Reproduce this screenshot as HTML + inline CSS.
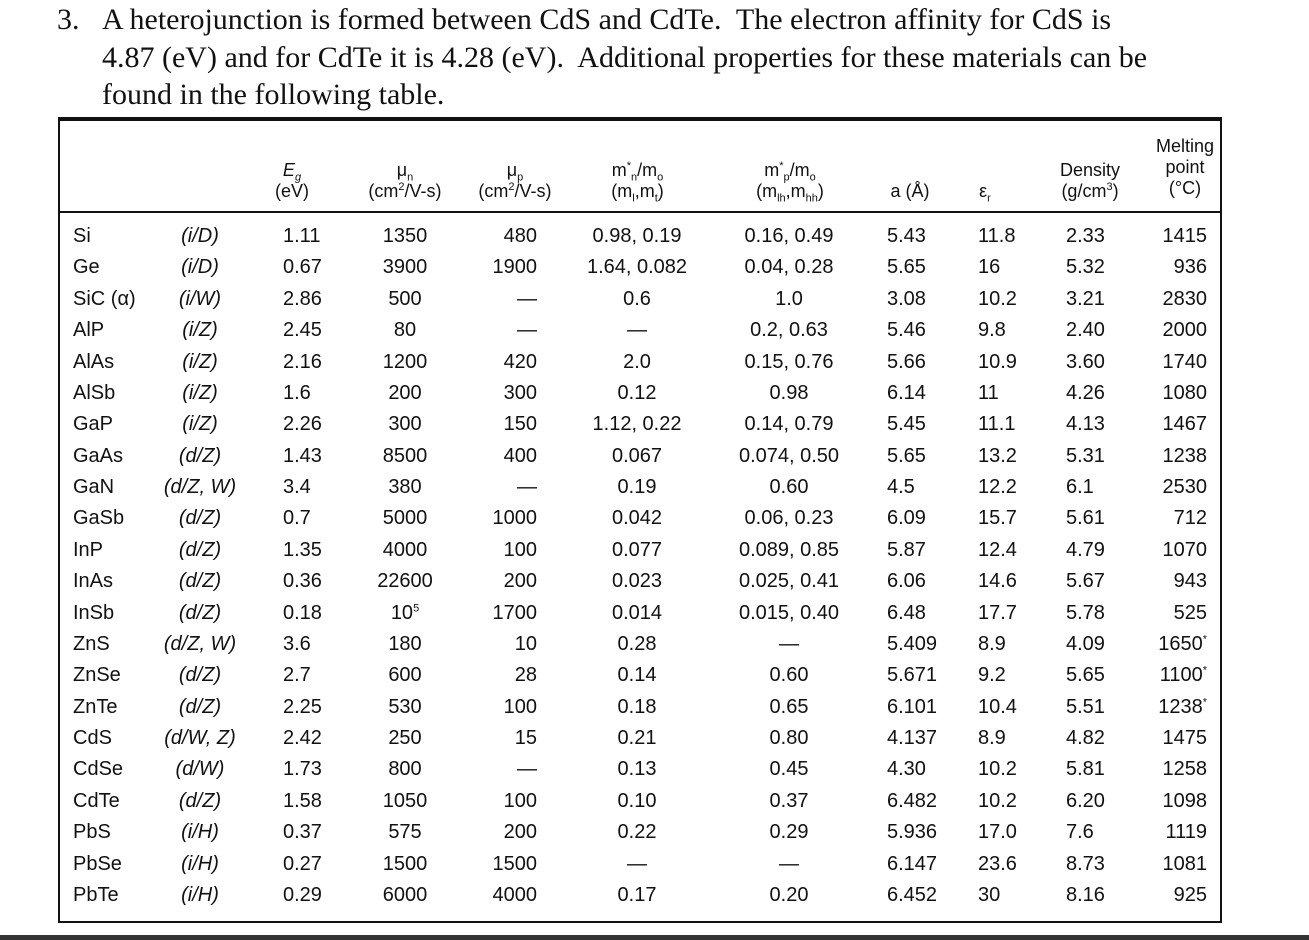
<!DOCTYPE html>
<html><head><meta charset="utf-8">
<style>
body{margin:0;width:1309px;height:940px;background:#fff;position:relative;overflow:hidden;font-family:"Liberation Sans",sans-serif;color:#111}
.q{position:absolute;font-family:"Liberation Serif",serif;font-size:30px;line-height:38px;white-space:nowrap}
#tbl{position:absolute;left:58px;top:117px;width:1164px;height:806px;border:2px solid #111;border-top:4px solid #111;box-sizing:border-box}
.c{position:absolute;font-size:20px;white-space:nowrap;line-height:24px}
.h{position:absolute;font-size:18px;line-height:21px;text-align:center;white-space:nowrap}
sup,sub{font-size:11px;line-height:0}
</style></head><body>
<div class="q" style="left:57px;top:1px">3.</div>
<div class="q" style="left:102px;top:1px">A heterojunction is formed between CdS and CdTe.&nbsp; The electron affinity for CdS is</div>
<div class="q" style="left:102px;top:39px">4.87 (eV) and for CdTe it is 4.28 (eV).&nbsp; Additional properties for these materials can be</div>
<div class="q" style="left:102px;top:76px">found in the following table.</div>
<div id="tbl"></div>
<div style="position:absolute;left:58px;top:211px;width:1164px;height:2px;background:#111"></div>
<div style="position:absolute;left:0;top:935px;width:1309px;height:5px;background:#333"></div>
<div class="h" style="left:272px;top:160px;width:40px"><i>E<sub>g</sub></i><br>(eV)</div>
<div class="h" style="left:355px;top:160px;width:100px">μ<sub>n</sub><br>(cm<sup>2</sup>/V-s)</div>
<div class="h" style="left:465px;top:160px;width:100px">μ<sub>p</sub><br>(cm<sup>2</sup>/V-s)</div>
<div class="h" style="left:580px;top:160px;width:115px">m<sup>*</sup><sub>n</sub>/m<sub>o</sub><br>(m<sub>l</sub>,m<sub>t</sub>)</div>
<div class="h" style="left:730px;top:160px;width:120px">m<sup>*</sup><sub>p</sub>/m<sub>o</sub><br>(m<sub>lh</sub>,m<sub>hh</sub>)</div>
<div class="h" style="left:880px;top:181px;width:60px">a (Å)</div>
<div class="h" style="left:970px;top:181px;width:30px">ε<sub>r</sub></div>
<div class="h" style="left:1045px;top:160px;width:90px">Density<br>(g/cm<sup>3</sup>)</div>
<div class="h" style="left:1150px;top:136px;width:70px">Melting<br>point<br>(°C)</div>
<script>
const names=["Si","Ge","SiC (α)","AlP","AlAs","AlSb","GaP","GaAs","GaN","GaSb","InP","InAs","InSb","ZnS","ZnSe","ZnTe","CdS","CdSe","CdTe","PbS","PbSe","PbTe"];
const types=["(i/D)","(i/D)","(i/W)","(i/Z)","(i/Z)","(i/Z)","(i/Z)","(d/Z)","(d/Z, W)","(d/Z)","(d/Z)","(d/Z)","(d/Z)","(d/Z, W)","(d/Z)","(d/Z)","(d/W, Z)","(d/W)","(d/Z)","(i/H)","(i/H)","(i/H)"];
const eg=["1.11","0.67","2.86","2.45","2.16","1.6","2.26","1.43","3.4","0.7","1.35","0.36","0.18","3.6","2.7","2.25","2.42","1.73","1.58","0.37","0.27","0.29"];
const mun=["1350","3900","500","80","1200","200","300","8500","380","5000","4000","22600","10<sup>5</sup>","180","600","530","250","800","1050","575","1500","6000"];
const mup=["480","1900","—","—","420","300","150","400","—","1000","100","200","1700","10","28","100","15","—","100","200","1500","4000"];
const mn=["0.98, 0.19","1.64, 0.082","0.6","—","2.0","0.12","1.12, 0.22","0.067","0.19","0.042","0.077","0.023","0.014","0.28","0.14","0.18","0.21","0.13","0.10","0.22","—","0.17"];
const mp=["0.16, 0.49","0.04, 0.28","1.0","0.2, 0.63","0.15, 0.76","0.98","0.14, 0.79","0.074, 0.50","0.60","0.06, 0.23","0.089, 0.85","0.025, 0.41","0.015, 0.40","—","0.60","0.65","0.80","0.45","0.37","0.29","—","0.20"];
const lat=["5.43","5.65","3.08","5.46","5.66","6.14","5.45","5.65","4.5","6.09","5.87","6.06","6.48","5.409","5.671","6.101","4.137","4.30","6.482","5.936","6.147","6.452"];
const eps=["11.8","16","10.2","9.8","10.9","11","11.1","13.2","12.2","15.7","12.4","14.6","17.7","8.9","9.2","10.4","8.9","10.2","10.2","17.0","23.6","30"];
const dens=["2.33","5.32","3.21","2.40","3.60","4.26","4.13","5.31","6.1","5.61","4.79","5.67","5.78","4.09","5.65","5.51","4.82","5.81","6.20","7.6","8.73","8.16"];
const melt=["1415","936","2830","2000","1740","1080","1467","1238","2530","712","1070","943","525","1650<sup>*</sup>","1100<sup>*</sup>","1238<sup>*</sup>","1475","1258","1098","1119","1081","925"];
const cols=[[names,73,"l","name"],[types,200,"c","type"],[eg,283,"l","eg"],[mun,405,"c","mun"],[mup,537,"r","mup"],[mn,637,"c","mn"],[mp,789,"c","mp"],[lat,887,"l","lattice"],[eps,978,"l","epsilon"],[dens,1066,"l","density"],[melt,1207,"r","melting"]];
for(let i=0;i<names.length;i++){
  const y=236+i*31.38-12;
  for(const [arr,x,al,key] of cols){
    const d=document.createElement('div');
    d.className='c';
    d.innerHTML=arr[i];
    if(key==="type")d.style.fontStyle="italic";
    d.style.top=y+'px';
    if(al==="l")d.style.left=x+'px';
    else if(al==="r")d.style.right=(1309-x)+'px';
    else{d.style.left=(x-100)+'px';d.style.width='200px';d.style.textAlign='center';}
    
    
    document.body.appendChild(d);
  }
}
</script>
</body></html>
